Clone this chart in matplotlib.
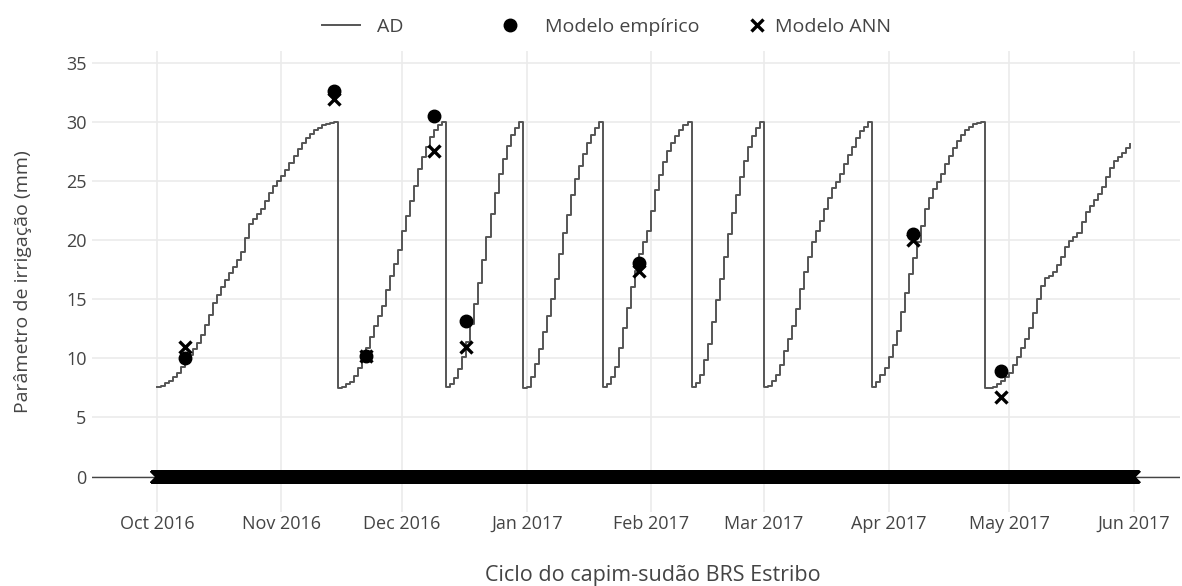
import numpy as np
import pandas as pd
import matplotlib
matplotlib.use('Agg')
import matplotlib.pyplot as plt
import matplotlib.dates as mdates
from matplotlib.lines import Line2D

plt.rcParams['font.family'] = ['Open Sans', 'DejaVu Sans']

TXT = '#444444'

# AD daily values (mm), one list per irrigation cycle, starting 2016-10-01
ad_c1 = [7.6, 7.7, 7.9, 8.1, 8.4, 8.8, 9.3, 9.9, 10.3, 10.8,
         11.3, 12.0, 12.8, 13.7, 14.7, 15.4, 16.0, 16.6, 17.2, 17.7,
         18.3, 19.0, 20.2, 21.4, 21.8, 22.2, 22.6, 23.3, 24.0, 24.6,
         25.0, 25.4, 25.9, 26.5, 27.1, 27.7, 28.2, 28.6, 29.0, 29.3,
         29.5, 29.7, 29.8, 29.9, 30.0]
ad_c2 = [7.5, 7.6, 7.8, 8.0, 8.5, 9.2, 10.0, 10.9, 11.8, 12.7,
         13.6, 14.4, 15.8, 17.0, 18.0, 19.2, 20.8, 22.0, 23.3, 24.6,
         26.0, 27.0, 27.9, 28.7, 29.3, 29.7, 30.0]
ad_c3 = [7.6, 7.8, 8.3, 9.1, 10.1, 11.4, 12.9, 14.6, 16.4, 18.3,
         20.3, 22.2, 24.0, 25.6, 26.9, 28.0, 28.9, 29.5, 30.0]
ad_c4 = [7.5, 7.6, 8.4, 9.5, 10.8, 12.2, 13.6, 15.0, 16.7, 18.8,
         20.6, 22.1, 23.8, 25.2, 26.3, 27.3, 28.2, 28.9, 29.5, 30.0]
ad_c5 = [7.6, 7.8, 8.4, 9.3, 10.9, 12.6, 14.3, 16.0, 17.4, 18.8,
         19.8, 20.8, 22.5, 24.2, 25.5, 26.6, 27.5, 28.2, 28.8, 29.3,
         29.7, 30.0]
ad_c6 = [7.6, 7.9, 8.6, 9.9, 11.2, 13.1, 14.9, 16.7, 18.6, 20.5,
         22.3, 23.8, 25.3, 26.7, 27.9, 28.8, 29.5, 30.0]
ad_c7 = [7.6, 7.7, 8.1, 8.6, 9.4, 10.6, 11.6, 12.7, 14.2, 15.9,
         17.3, 18.6, 19.8, 20.8, 21.6, 22.6, 23.6, 24.4, 24.9, 25.6,
         26.4, 27.2, 27.9, 28.6, 29.2, 29.6, 30.0]
ad_c8 = [7.6, 8.0, 8.6, 9.2, 10.1, 11.1, 12.3, 13.9, 15.5, 17.1,
         18.5, 19.8, 21.2, 22.6, 23.6, 24.3, 24.9, 25.6, 26.4, 27.1,
         27.8, 28.4, 28.9, 29.3, 29.6, 29.8, 29.9, 30.0]
ad_c9 = [7.5, 7.5, 7.6, 7.8, 8.1, 8.4, 8.8, 9.4, 10.1, 10.9,
         11.6, 12.6, 13.8, 15.0, 16.1, 16.8, 17.0, 17.3, 17.9, 18.6,
         19.4, 19.9, 20.3, 20.6, 21.5, 22.4, 22.9, 23.4, 23.9, 24.5,
         25.3, 26.1, 26.7, 27.0, 27.4, 27.8, 28.1]

ad_values = ad_c1 + ad_c2 + ad_c3 + ad_c4 + ad_c5 + ad_c6 + ad_c7 + ad_c8 + ad_c9
ad_dates = pd.date_range('2016-10-01', periods=len(ad_values), freq='D')

event_dates = pd.to_datetime(['2016-10-08', '2016-11-14', '2016-11-22', '2016-12-09',
                              '2016-12-17', '2017-01-29', '2017-04-07', '2017-04-29'])
emp_values = [10.0, 32.6, 10.2, 30.5, 13.2, 18.1, 20.5, 8.9]
ann_values = [11.0, 31.9, 10.2, 27.5, 11.0, 17.4, 20.0, 6.7]

# model output on non-irrigation steps (all zero) -> the thick band at 0
band_dates = pd.date_range('2016-10-01', '2017-06-01', freq='h')
band_values = np.zeros(len(band_dates))

fig = plt.figure(figsize=(11.82, 5.86), dpi=100)
ax = fig.add_axes([92 / 1182, 1 - 512 / 586, 1088 / 1182, 461 / 586])

ax.axhline(0, color=TXT, lw=1, zorder=2)
ax.plot(band_dates, band_values, ls='none', marker='x', ms=9, mew=1.6,
        color='black', zorder=3)
ax.plot(ad_dates, ad_values, drawstyle='steps-post', color='#555555', lw=1.4, zorder=4)
ax.plot(event_dates, emp_values, ls='none', marker='o', ms=9, color='black', zorder=5)
ax.plot(event_dates, ann_values, ls='none', marker='x', ms=9, mew=2.4, color='black', zorder=6)

ax.set_xlim(pd.Timestamp('2016-09-14 21:00'), pd.Timestamp('2017-06-12 12:00'))
ax.set_ylim(-3, 36)
ax.set_yticks(np.arange(0, 36, 5))
ax.xaxis.set_major_locator(mdates.MonthLocator())
ax.xaxis.set_major_formatter(mdates.DateFormatter('%b %Y'))

ax.grid(True, color='#ebebeb', lw=1.2)
ax.set_axisbelow(True)
for s in ax.spines.values():
    s.set_visible(False)
ax.tick_params(axis='both', length=0, labelsize=13, colors=TXT)
ax.tick_params(axis='x', pad=2)
ax.tick_params(axis='y', pad=4)

ax.set_xlabel('Ciclo do capim-sudão BRS Estribo', fontsize=15.5, color=TXT)
ax.set_ylabel('Parâmetro de irrigação (mm)', fontsize=14, color=TXT)
ax.xaxis.set_label_coords(0.515, -0.115)
ax.yaxis.set_label_coords(-0.055, 0.5)

# legend entries placed like the horizontal plotly legend
leg_items = [
    (Line2D([], [], color='#555555', lw=1.4), 'AD', 322, 1.95, 0.88),
    (Line2D([], [], ls='none', marker='o', ms=9, color='black'), 'Modelo empírico', 500, 1.0, 1.3),
    (Line2D([], [], ls='none', marker='x', ms=9, mew=2.4, color='black'), 'Modelo ANN', 747, 1.0, 0.44),
]
for h, lab, px, hl, tp in leg_items:
    leg = fig.legend(handles=[h], labels=[lab], loc='center left',
                     bbox_to_anchor=(px / 1182, 1 - 27 / 586), frameon=False,
                     borderaxespad=0, borderpad=0, handlelength=hl, handletextpad=tp,
                     fontsize=14)
    for t in leg.get_texts():
        t.set_color(TXT)

fig.savefig('out.png', dpi=100)
